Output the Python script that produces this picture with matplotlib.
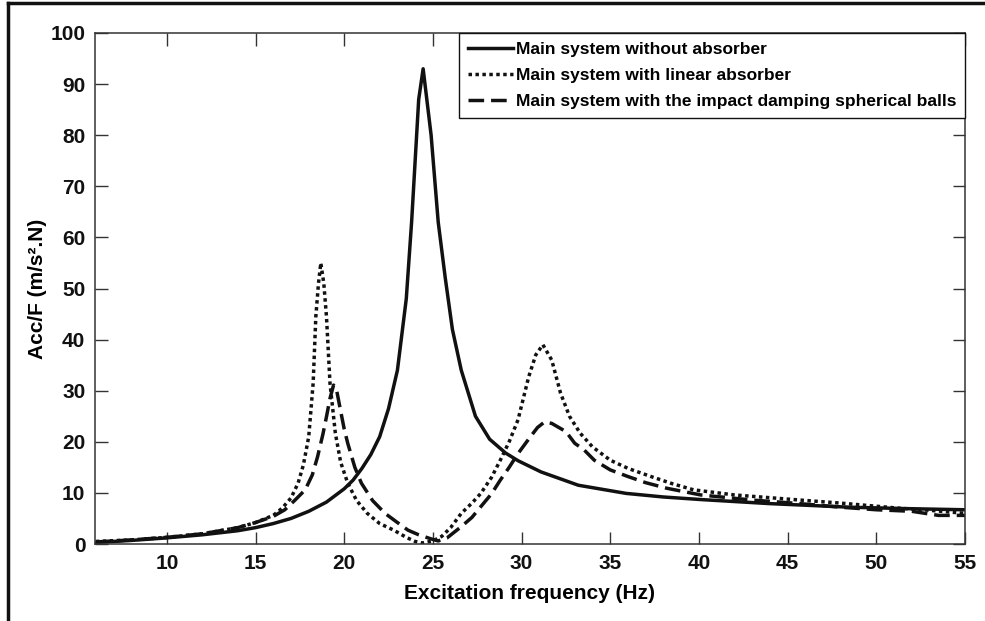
import matplotlib
matplotlib.use("Agg")
import matplotlib.pyplot as plt
from matplotlib.lines import Line2D

plt.rcParams['font.family'] = ['Liberation Sans', 'DejaVu Sans']
plt.rcParams['font.weight'] = 'bold'

# Main system without absorber
x_none = [6, 8, 10, 12, 14, 15, 16, 17, 18, 19, 20, 20.5, 21, 21.5, 22, 22.5, 23, 23.5,
          23.8, 24.2, 24.45, 24.9, 25.3, 25.7, 26.1, 26.6, 27.4, 28.2, 29.1, 29.8, 31.1,
          33.2, 35.9, 38, 40.1, 44, 48.5, 52, 55]
y_none = [0.3, 0.7, 1.2, 1.8, 2.6, 3.2, 4.0, 5.0, 6.4, 8.2, 10.8, 12.5, 14.8, 17.5, 21, 26.5,
          34, 48, 63, 87, 93, 80, 63, 52, 42, 34, 25, 20.5, 17.8, 16.3, 14.1, 11.5, 9.9,
          9.2, 8.7, 7.9, 7.2, 6.9, 6.7]

# Main system with linear absorber
x_lin = [6, 8, 10, 12, 14, 15, 16, 16.5, 17, 17.4, 17.7, 18.0, 18.25, 18.4, 18.55, 18.68,
         18.85, 19.0, 19.2, 19.5, 19.8, 20.2, 20.7, 21.3, 22, 22.8, 23.5, 24.0, 24.4, 25,
         25.5, 26, 26.6, 27.2, 27.7, 28.3, 28.8, 29.3, 29.8, 30.4, 30.8, 31.2, 31.7, 32.2,
         32.7, 33.3, 34, 35, 36, 37.3, 38.5, 39.7, 42, 45.7, 48, 51.3, 53, 55]
y_lin = [0.5, 0.8, 1.3, 2.0, 3.2, 4.2, 5.6, 7.0, 9.0, 11.9, 15.5, 21, 31.5, 44.5, 51, 55,
         51, 44.5, 31.4, 21.7, 16, 11.9, 8.5, 6.0, 4.0, 2.7, 1.3, 0.5, 0.2, 0.6, 1.5, 3.2,
         6.0, 8.0, 9.9, 13, 16.4, 20, 24.3, 32.7, 37, 39, 36, 29.5, 25, 21.7, 19, 16.4,
         14.8, 13.2, 11.8, 10.6, 9.6, 8.6, 8.0, 7.0, 6.6, 6.0]

# Main system with the impact damping spherical balls
x_ball = [6, 8, 10, 12, 14, 15, 16, 16.65, 17.2, 17.8, 18.2, 18.5, 18.8, 19.0, 19.2, 19.4,
          19.55, 19.75, 20.0, 20.2, 20.6, 20.97, 21.6, 22.3, 23.0, 23.6, 24.2, 24.9, 25.3,
          25.8, 26.6, 27.2, 27.7, 28.3, 28.8, 29.3, 29.8, 30.5, 30.9, 31.3, 31.7, 32.0,
          32.5, 33.0, 33.5, 34.1, 35, 36, 37, 38.2, 40.1, 43, 45.7, 48, 50, 52, 53.5, 55]
y_ball = [0.4, 0.8, 1.3, 2.0, 3.2, 4.2, 5.4, 6.7, 8.5, 10.6, 13.5, 17.1, 21.5, 24.9, 28.5,
          31.1, 30.5, 26.9, 22.5, 19.7, 15, 11.9, 8.5, 6.0, 4.2, 2.7, 1.8, 1.0, 0.6, 1.2,
          3.4, 5.2, 7.3, 9.8, 12.5, 15, 17.7, 21, 22.8, 23.9, 23.6, 23, 22, 19.7, 18.5,
          16.4, 14.5, 13.2, 12.0, 10.9, 9.6, 8.6, 7.9, 7.2, 6.7, 6.4, 5.6, 5.6]

labels = ['Main system without absorber',
          'Main system with linear absorber',
          'Main system with the impact damping spherical balls']

fig = plt.figure(figsize=(9.85, 6.21), dpi=100)
ax = fig.add_axes([95 / 985, 1 - 544 / 621, 870 / 985, 511 / 621])

lw = 2.5
ax.plot(x_none, y_none, color='#111111', lw=lw, linestyle='-', label=labels[0])
ax.plot(x_lin, y_lin, color='#111111', lw=lw, linestyle=(0, (1, 1)),
        dash_capstyle='butt', label=labels[1])
ax.plot(x_ball, y_ball, color='#111111', lw=lw, linestyle=(0, (4.5, 2)),
        dash_capstyle='butt', label=labels[2])

ax.set_xlim(5.95, 55)
ax.set_ylim(0, 100)
ax.set_xticks(range(10, 56, 5))
ax.set_yticks(range(0, 101, 10))
ax.tick_params(direction='in', length=9, width=1, top=True, right=True,
               labelsize=15, colors='#333333', labelcolor='#111111', pad=7)
for s in ax.spines.values():
    s.set_color('#333333')
    s.set_linewidth(1.1)

ax.set_xlabel('Excitation frequency (Hz)', fontsize=15, fontweight='bold', labelpad=8)
ax.set_ylabel('Acc/F (m/s².N)', fontsize=15, fontweight='bold', labelpad=2)

leg = ax.legend(loc='upper right', borderaxespad=0, fontsize=12.5, fancybox=False,
                edgecolor='#111111', framealpha=1, handlelength=2.6, handletextpad=0.17,
                borderpad=0.5, labelspacing=0.64)
leg.get_frame().set_linewidth(1.0)

# outer frame (top and left edges only)
fig.add_artist(Line2D([8 / 985, 1], [1 - 3 / 621, 1 - 3 / 621], transform=fig.transFigure,
                      color='#111111', lw=2.5))
fig.add_artist(Line2D([8 / 985, 8 / 985], [0, 1 - 3 / 621], transform=fig.transFigure,
                      color='#111111', lw=2.5))

fig.savefig('out.png', dpi=100)
